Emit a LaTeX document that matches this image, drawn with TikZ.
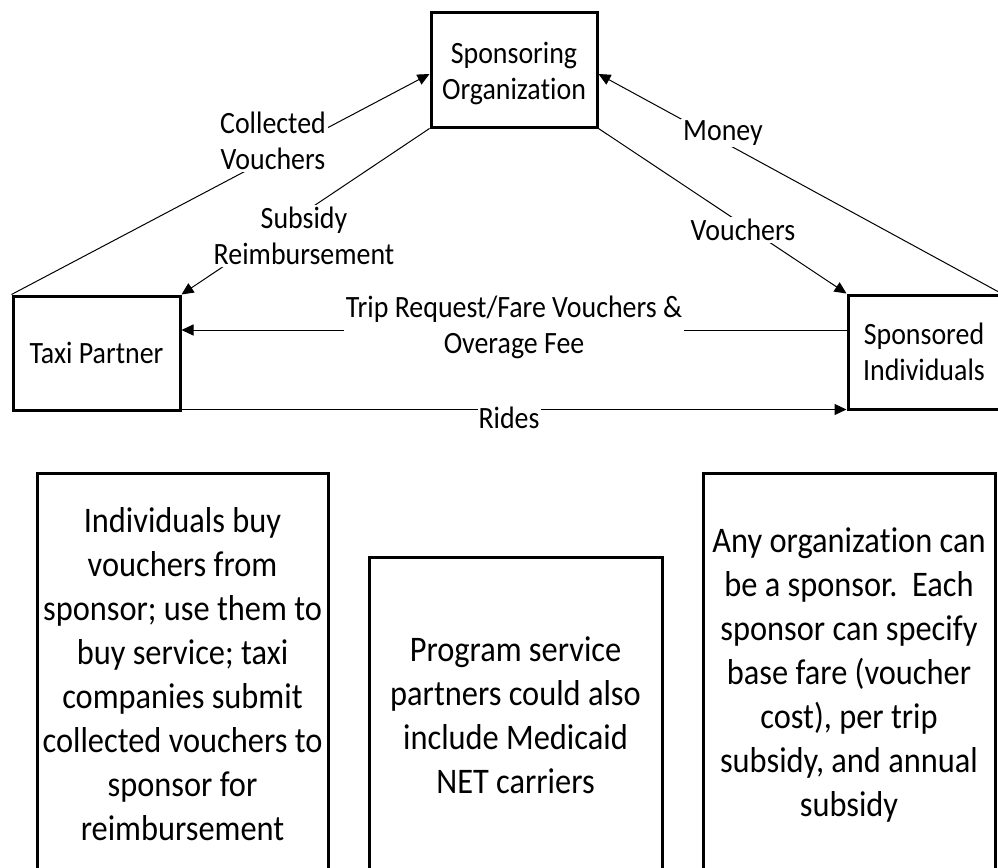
\documentclass[tikz,border=0pt]{standalone}
\usepackage{fontspec}
\setmainfont[FakeStretch=0.9,RawFeature={-liga;-clig;-dlig;-calt}]{Carlito}
\usetikzlibrary{arrows.meta}
\newcommand{\nlg}{\kern0pt }
\begin{document}
\begin{tikzpicture}[x=1pt,y=-1pt,
  box/.style={draw,line width=3pt,inner sep=0pt,align=center,font=\fontsize{31}{36}\selectfont},
  txt/.style={inner sep=0pt,align=center,font=\fontsize{31}{36}\selectfont},
  note/.style={draw,line width=3pt,inner sep=0pt,align=center,font=\fontsize{36}{44}\selectfont},
  conn/.style={line width=1pt,-{Triangle[length=12pt,width=11pt]}},
  lbl/.style={fill=white,inner sep=2pt,align=center,font=\fontsize{31}{36}\selectfont}]
\useasboundingbox (0,0) rectangle (998,867);
% main boxes
\node[box,minimum width=166pt,minimum height=114pt] (so) at (514,70) {};
\node[txt] (sot) at (514,74) {Sponsoring\\Organiza\nlg t\nlg ion};
\node[box,minimum width=167pt,minimum height=114pt] (tp) at (96.5,353) {Taxi Partner};
\node[box,minimum width=152pt,minimum height=114pt] (si) at (924,352) {Sponsored\\Individuals};
% notes
\node[note,minimum width=291pt,minimum height=402pt] (n1) at (182.5,674)
  {Individuals buy\\vouchers from\\sponsor; use them to\\buy service; taxi\\companies submit\\collected vouchers to\\sponsor for\\reimbursement};
\node[note,minimum width=293pt,minimum height=316pt] (n2) at (515.5,715)
  {Program service\\partners could also\\include Medicaid\\NET carriers};
\node[note,minimum width=292pt,minimum height=404pt] (n3) at (849,675)
  {Any organiza\nlg t\nlg ion can\\be a sponsor.\ \ Each\\sponsor can specify\\base fare (voucher\\cost), per trip\\subsidy, and annual\\subsidy};
% connectors
\draw[conn] (tp.north west) -- ([yshift=-4pt]so.west);
\draw[conn] (so.south west) -- (tp.north east);
\draw[conn] (si.north east) -- ([yshift=-4pt]so.east);
\draw[conn] (so.south east) -- (si.north west);
\draw[conn] ([yshift=22pt]si.west) -- ([yshift=23pt]tp.east);
\draw[conn] ([yshift=2pt]tp.south east) -- ([yshift=1pt]si.south west);
% labels
\node[lbl] (l1) at (273,141) {Collected\\Vouchers};
\node[lbl] (l2) at (304,236) {Subsidy\\Reimbursement};
\node[lbl] (l3) at (723,133) {Money};
\node[lbl] (l4) at (743,230) {Vouchers};
\node[lbl] (l5) at (514,327) {Trip Request/Fare Vouchers \&\\Overage Fee};
\node[lbl,inner sep=1pt] (l6) at (509,418) {Rides};
\end{tikzpicture}
\end{document}
